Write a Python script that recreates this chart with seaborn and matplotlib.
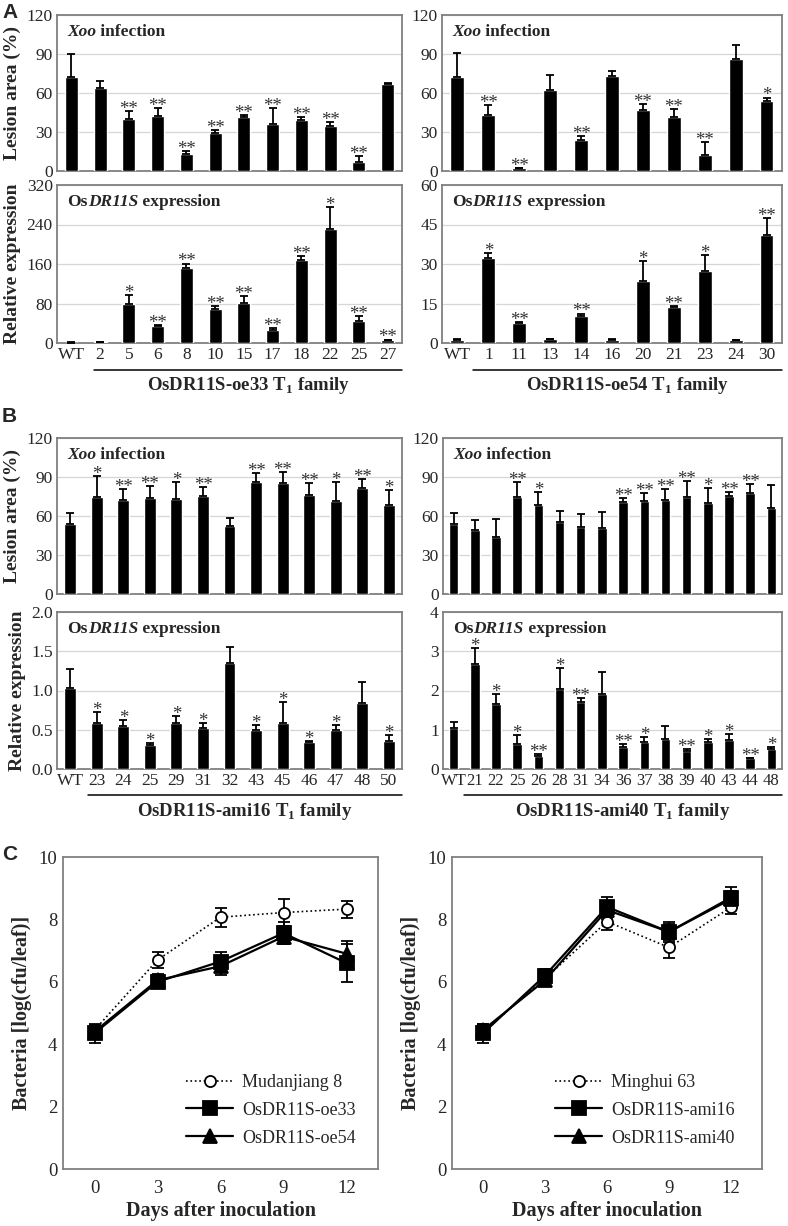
import numpy as np
import pandas as pd
import matplotlib
matplotlib.use('Agg')
import matplotlib.pyplot as plt
import matplotlib.transforms as mtransforms
import seaborn as sns

# ---- panel A : over-expression lines ----
oe33_lines = ['WT', '2', '5', '6', '8', '10', '15', '17', '18', '22', '25', '27']
oe33_lesion = [72, 64, 40, 42.5, 13, 29.5, 41.5, 36, 39, 34.5, 7, 67]
oe33_lesion_err = [18, 5, 6, 6, 2.5, 2.3, 1.8, 12.5, 2.5, 3.5, 4.8, 0.8]
oe33_lesion_sig = ['', '', '**', '**', '**', '**', '**', '**', '**', '**', '**', '']
oe33_expr = [1.0, 2, 78, 35, 152, 68, 81, 27, 169, 231, 44, 6]
oe33_expr_err = [0.3, 1, 20, 1.5, 9, 7, 14, 3, 8, 44, 11, 1]
oe33_expr_sig = ['', '', '*', '**', '**', '**', '**', '**', '**', '*', '**', '**']

oe54_lines = ['WT', '1', '11', '13', '14', '16', '20', '21', '23', '24', '30']
oe54_lesion = [72, 43, 2.5, 62, 24, 73.3, 47, 41.3, 12, 86, 54]
oe54_lesion_err = [19, 7.5, 0, 11.5, 3, 3.5, 4.5, 6.7, 10, 11, 2.5]
oe54_lesion_sig = ['', '**', '**', '', '**', '', '**', '**', '**', '', '*']
oe54_expr = [1.1, 32.3, 7.6, 1.5, 10.3, 1.3, 23.5, 13.5, 27.2, 1.0, 41]
oe54_expr_err = [0.3, 1.8, 0.5, 0, 0.9, 0.2, 7.7, 0.7, 6.3, 0.1, 6.3]
oe54_expr_sig = ['', '*', '**', '', '**', '', '*', '**', '*', '', '**']

# ---- panel B : amiRNA lines ----
ami16_lines = ['WT', '23', '24', '25', '29', '31', '32', '43', '45', '46', '47', '48', '50']
ami16_lesion = [53.6, 75, 72, 74, 73.3, 75.6, 52, 86.4, 85.6, 76.4, 71.3, 81.8, 68.7]
ami16_lesion_err = [9, 15.5, 8.7, 8.7, 12.6, 7, 6.2, 6.4, 8.5, 8.7, 14.6, 6.9, 11]
ami16_lesion_sig = ['', '*', '**', '**', '*', '**', '', '**', '**', '**', '*', '**', '*']
ami16_expr = [1.03, 0.59, 0.55, 0.30, 0.59, 0.52, 1.35, 0.50, 0.59, 0.34, 0.50, 0.84, 0.36]
ami16_expr_err = [0.25, 0.13, 0.07, 0.03, 0.09, 0.06, 0.21, 0.06, 0.26, 0.015, 0.06, 0.27, 0.07]
ami16_expr_sig = ['', '*', '*', '*', '*', '*', '', '*', '*', '*', '*', '', '*']

ami40_lines = ['WT', '21', '22', '25', '26', '28', '31', '34', '36', '37', '38', '39', '40', '43', '44', '48']
ami40_lesion = [53.8, 49, 43.6, 74.9, 68.5, 55.4, 51.3, 50.5, 70.5, 71.8, 72.6, 74.9, 70, 75.4, 77.4, 66.4]
ami40_lesion_err = [8.8, 8.2, 14.1, 11.3, 10.2, 8.7, 10.5, 12.8, 3.6, 6.2, 8.4, 12, 11.8, 3.3, 7.5, 17.7]
ami40_lesion_sig = ['', '', '', '**', '*', '', '', '', '**', '**', '**', '**', '*', '**', '**', '']
ami40_expr = [1.04, 2.68, 1.65, 0.63, 0.34, 2.03, 1.71, 1.92, 0.55, 0.70, 0.76, 0.45, 0.68, 0.74, 0.27, 0.52]
ami40_expr_err = [0.15, 0.40, 0.26, 0.23, 0.04, 0.55, 0.10, 0.54, 0.09, 0.12, 0.33, 0.06, 0.09, 0.14, 0.01, 0.03]
ami40_expr_sig = ['', '*', '*', '*', '**', '*', '**', '', '**', '*', '', '**', '*', '*', '**', '*']

# ---- panel C : bacterial growth ----
days = ['0', '3', '6', '9', '12']
mdj8 = [4.45, 6.7, 8.07, 8.22, 8.33]
mdj8_err = [0.12, 0.27, 0.3, 0.42, 0.27]
oe33_bac = [4.35, 6.0, 6.65, 7.56, 6.6]
oe33_bac_err = [0.3, 0.2, 0.3, 0.35, 0.6]
oe54_bac = [4.4, 6.05, 6.5, 7.45, 6.9]
oe54_bac_err = [0.2, 0.2, 0.27, 0.25, 0.4]
mh63 = [4.4, 6.1, 7.93, 7.1, 8.39]
mh63_err = [0.2, 0.2, 0.27, 0.35, 0.22]
ami16_bac = [4.35, 6.2, 8.4, 7.6, 8.7]
ami16_bac_err = [0.3, 0.2, 0.32, 0.33, 0.33]
ami40_bac = [4.45, 6.05, 8.3, 7.6, 8.65]
ami40_bac_err = [0.2, 0.2, 0.3, 0.25, 0.25]

sns.set_style('white')
plt.rcParams['font.family'] = ['Liberation Serif', 'DejaVu Serif']
plt.rcParams['mathtext.fontset'] = 'custom'
plt.rcParams['mathtext.bf'] = 'Liberation Serif:bold'
plt.rcParams['mathtext.rm'] = 'Liberation Serif'

W, H = 788, 1226
FRAME = '#808080'
fig = plt.figure(figsize=(W / 100, H / 100), dpi=100)


def add_ax(x0, x1, ytop, ybot):
    return fig.add_axes([x0 / W, 1 - ybot / H, (x1 - x0) / W, (ybot - ytop) / H])


def style_frame(ax):
    for s in ax.spines.values():
        s.set_color(FRAME)
        s.set_linewidth(1.3)


def title_chain(ax, parts, y):
    # parts: list of (text, italic)
    t = ax.text(0.03, y, parts[0][0], transform=ax.transAxes, fontsize=12.5,
                fontweight='bold', fontstyle='italic' if parts[0][1] else 'normal',
                va='baseline', ha='left')
    for txt, it in parts[1:]:
        t = ax.annotate(txt, xy=(1, 0), xycoords=t, fontsize=12.5, fontweight='bold',
                        fontstyle='italic' if it else 'normal', va='bottom', ha='left')


def bar_panel(ax, cats, vals, errs, sig, ymax, step, title, fmt='{:.0f}', labels=False,
              ylabel=None, labelsize=12.5):
    df = pd.DataFrame({'line': cats, 'value': vals})
    sns.barplot(data=df, x='line', y='value', color='black', saturation=1, width=0.45,
                errorbar=None, ax=ax, zorder=3)
    xs = np.arange(len(cats))
    ax.errorbar(xs, vals, yerr=[np.zeros(len(errs)), errs], fmt='none', ecolor='black',
                elinewidth=1.3, capsize=3.2, capthick=1.3, zorder=4)
    for x, v, e, s in zip(xs, vals, errs, sig):
        if s:
            ax.annotate(s, xy=(x, v + e), xytext=(0, -5), textcoords='offset points',
                        ha='center', va='bottom', fontsize=13.5, color='#333333')
    ax.set_xlim(-0.5, len(cats) - 0.5)
    ax.set_ylim(0, ymax)
    ticks = np.arange(0, ymax + step / 2, step)
    ax.set_yticks(ticks)
    ax.set_yticklabels([fmt.format(t) for t in ticks], fontsize=12.5)
    ax.yaxis.grid(True, color='#d6d6d6', linewidth=0.9, zorder=0)
    ax.set_axisbelow(True)
    ax.set_xticks(np.arange(0.5, len(cats) - 0.5), minor=True)
    ax.tick_params(axis='x', which='minor', length=3, color=FRAME, direction='out')
    ax.tick_params(axis='x', which='major', length=0, labelsize=labelsize, pad=3)
    ax.tick_params(axis='y', length=0, pad=3)
    if not labels:
        ax.set_xticklabels([])
    ax.set_xlabel('')
    if ylabel:
        ax.set_ylabel(ylabel, fontsize=14, fontweight='bold', labelpad=4)
    else:
        ax.set_ylabel('')
    style_frame(ax)
    title_chain(ax, title, 0.865)


def family_label(ax, n, start, text):
    tr = mtransforms.blended_transform_factory(ax.transData, ax.transAxes)
    ax.plot([start, n - 0.5], [-0.168, -0.168], transform=tr, color='black',
            lw=1.1, clip_on=False)
    ax.text((start + n - 0.5) / 2, -0.205, text, transform=tr, ha='center', va='top',
            fontsize=13.5, fontweight='bold')


xoo = [('Xoo', True), (' infection', False)]
expr = [('Os', False), ('DR11S', True), (' expression', False)]

# A
ax = add_ax(57, 402, 15, 171)
bar_panel(ax, oe33_lines, oe33_lesion, oe33_lesion_err, oe33_lesion_sig, 120, 30, xoo,
          ylabel='Lesion area (%)')
ax = add_ax(57, 402, 185, 343)
bar_panel(ax, oe33_lines, oe33_expr, oe33_expr_err, oe33_expr_sig, 320, 80, expr,
          labels=True, ylabel='Relative expression')
family_label(ax, len(oe33_lines), 0.8, r'OsDR11S-oe33 T$_{\mathbf{1}}$ family')

ax = add_ax(442, 782, 15, 171)
bar_panel(ax, oe54_lines, oe54_lesion, oe54_lesion_err, oe54_lesion_sig, 120, 30, xoo)
ax = add_ax(442, 782, 185, 343)
bar_panel(ax, oe54_lines, oe54_expr, oe54_expr_err, oe54_expr_sig, 60, 15, expr, labels=True)
family_label(ax, len(oe54_lines), 0.5, r'OsDR11S-oe54 T$_{\mathbf{1}}$ family')

# B
ax = add_ax(57, 402, 438, 594)
bar_panel(ax, ami16_lines, ami16_lesion, ami16_lesion_err, ami16_lesion_sig, 120, 30, xoo,
          ylabel='Lesion area (%)')
ax = add_ax(57, 402, 612, 769)
bar_panel(ax, ami16_lines, ami16_expr, ami16_expr_err, ami16_expr_sig, 2.0, 0.5, expr,
          fmt='{:.1f}', labels=True, ylabel='Relative expression')
family_label(ax, len(ami16_lines), 0.65, r'OsDR11S-ami16 T$_{\mathbf{1}}$ family')

ax = add_ax(443, 782, 438, 594)
bar_panel(ax, ami40_lines, ami40_lesion, ami40_lesion_err, ami40_lesion_sig, 120, 30, xoo)
ax = add_ax(443, 782, 612, 769)
bar_panel(ax, ami40_lines, ami40_expr, ami40_expr_err, ami40_expr_sig, 4, 1, expr,
          labels=True, labelsize=12)
family_label(ax, len(ami40_lines), 0.5, r'OsDR11S-ami40 T$_{\mathbf{1}}$ family')


# C
def growth_panel(ax, series, lx):
    for name, vals, errs, mk, ls, face in series:
        ax.errorbar(np.arange(len(days)), vals, yerr=errs, fmt='none', ecolor='black',
                    elinewidth=1.3, capsize=4.5, capthick=1.3, zorder=2)
        sns.pointplot(x=days, y=vals, color='black', markers=mk, linestyles=ls,
                      errorbar=None, ax=ax, label=name, markersize=9.5 if mk != 'o' else 8,
                      markerfacecolor=face, markeredgewidth=1.3,
                      linewidth=1.2 if ls == ':' else 1.6, zorder=3)
    ax.set_xlim(-0.5, len(days) - 0.5)
    ax.set_ylim(0, 10)
    ax.set_yticks(np.arange(0, 11, 2))
    ax.set_xticks(np.arange(len(days)))
    ax.set_xticklabels(days)
    ax.set_xticks(np.arange(0.5, len(days) - 0.5), minor=True)
    ax.tick_params(axis='x', which='major', length=0, labelsize=13.5, pad=8)
    ax.tick_params(axis='x', which='minor', length=3, color=FRAME, direction='in')
    ax.tick_params(axis='y', length=3, color=FRAME, direction='in', labelsize=13.5, pad=4)
    ax.set_xlabel('Days after inoculation', fontsize=14.5, fontweight='bold', labelpad=3)
    ax.set_ylabel('Bacteria [log(cfu/leaf)]', fontsize=14.5, fontweight='bold', labelpad=5)
    ax.grid(False)
    style_frame(ax)
    ax.legend(loc='lower left', bbox_to_anchor=(lx, 0.02), frameon=False, fontsize=13,
              handlelength=2.6, labelspacing=0.6, handletextpad=0.5)


ax = add_ax(63, 378, 857, 1169)
growth_panel(ax, [('Mudanjiang 8', mdj8, mdj8_err, 'o', ':', 'white'),
                  ('OsDR11S-oe33', oe33_bac, oe33_bac_err, 's', '-', 'black'),
                  ('OsDR11S-oe54', oe54_bac, oe54_bac_err, '^', '-', 'black')], 0.34)
ax = add_ax(452, 762, 857, 1169)
growth_panel(ax, [('Minghui 63', mh63, mh63_err, 'o', ':', 'white'),
                  ('OsDR11S-ami16', ami16_bac, ami16_bac_err, 's', '-', 'black'),
                  ('OsDR11S-ami40', ami40_bac, ami40_bac_err, '^', '-', 'black')], 0.28)

# panel letters
for letter, yy in [('A', 12), ('B', 417), ('C', 855)]:
    fig.text(2 / W, 1 - yy / H, letter, fontsize=15, fontweight='bold',
             family='Liberation Sans', va='center', ha='left')

fig.savefig('out.png', dpi=100, facecolor='white')
